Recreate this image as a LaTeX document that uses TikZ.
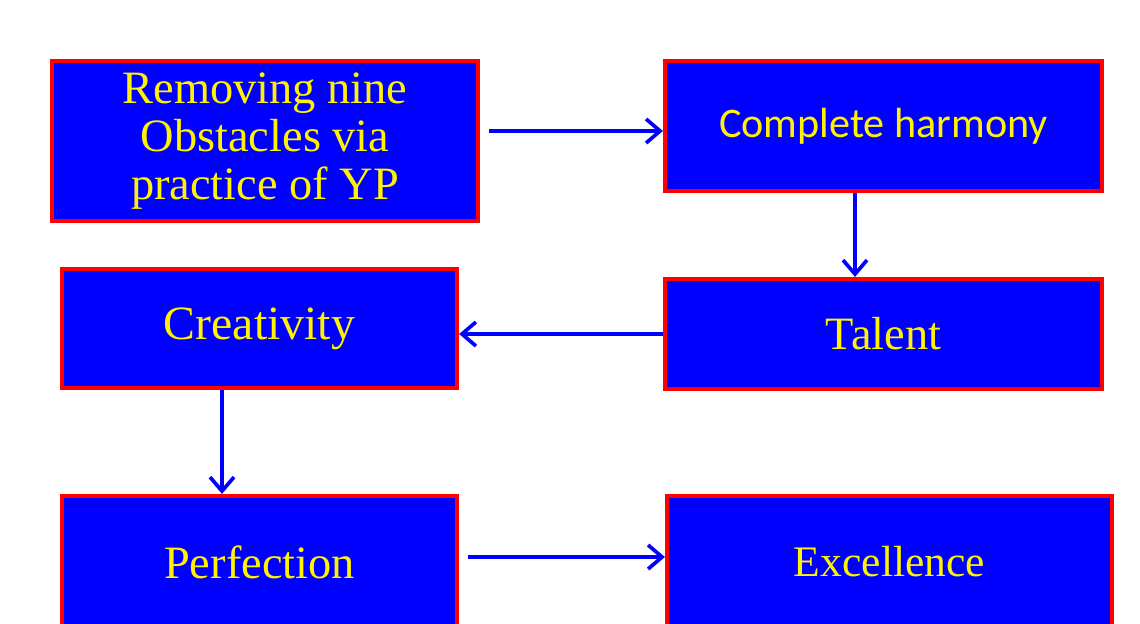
\documentclass[tikz,border=0pt]{standalone}
\usepackage{fontspec}
\setmainfont{Liberation Serif}
\newfontfamily\harmfont{Carlito}
\usetikzlibrary{arrows.meta}

\begin{document}
\begin{tikzpicture}[
		stage/.style={draw=red, fill=blue, line width=3pt, text=yellow, align=center, inner sep=0pt, font=\fontsize{33}{34}\selectfont},
		flow/.style={draw=blue, line width=2.6pt, -{Straight Barb[length=0.35cm, width=0.6cm, line width=2.6pt]}}
	]
		\clip (0, 0) rectangle (28.5, -15.575);

		\node[stage, minimum width=10.65cm, minimum height=4cm] (obst) at (6.625, -3.525) {Removing nine\\Obstacles via\\practice of YP};

		\node[stage, minimum width=10.925cm, minimum height=3.25cm, font=\harmfont\fontsize{30}{32}\selectfont] (harm) at (22.0875, -3.15) {Complete harmony};

		\node[stage, minimum width=10.925cm, minimum height=2.75cm] (tal) at (22.0875, -8.35) {Talent};

		\node[stage, minimum width=9.875cm, minimum height=2.975cm, font=\fontsize{34}{36}\selectfont] (crea) at (6.4875, -8.2125) {Creativity};

		\node[stage, minimum width=9.875cm, minimum height=3.3cm] (perf) at (6.4875, -14.05) {Perfection};

		\node[stage, minimum width=11.125cm, minimum height=3.3cm, font=\fontsize{31}{33}\selectfont] (exc) at (22.2375, -14.05) {Excellence};

		\coordinate (s1) at ([shift={(0.225, 0.25)}]obst.east);
		\draw[flow] (s1) -- (s1 -| harm.west);

		\draw[flow] ([xshift=-0.7125cm]harm.south) -- ([xshift=-0.7125cm]tal.north);

		\draw[flow] (tal.west) -- (tal.west -| crea.east);

		\draw[flow] ([xshift=-0.9375cm]crea.south) -- ([xshift=-0.9375cm]perf.north);

		\coordinate (s5) at ([shift={(0.225, 0.125)}]perf.east);
		\draw[flow] (s5) -- (s5 -| exc.west);
	\end{tikzpicture}
\end{document}
